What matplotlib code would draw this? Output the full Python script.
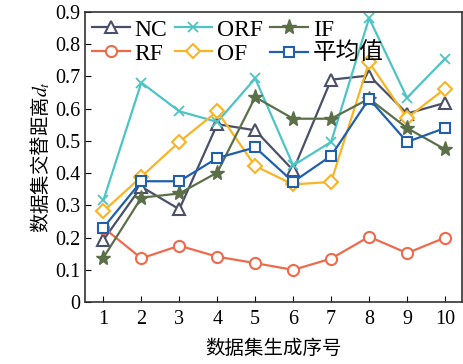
import matplotlib
matplotlib.use("Agg")
import matplotlib.pyplot as plt

# data
x = [1, 2, 3, 4, 5, 6, 7, 8, 9, 10]
nc = [0.193, 0.358, 0.288, 0.552, 0.533, 0.409, 0.690, 0.703, 0.585, 0.618]
orf = [0.316, 0.681, 0.592, 0.559, 0.694, 0.424, 0.497, 0.881, 0.634, 0.755]
iforest = [0.138, 0.324, 0.337, 0.402, 0.636, 0.569, 0.569, 0.631, 0.540, 0.474]
rf = [0.231, 0.136, 0.175, 0.141, 0.121, 0.100, 0.135, 0.203, 0.152, 0.200]
of = [0.282, 0.389, 0.497, 0.592, 0.422, 0.365, 0.373, 0.744, 0.571, 0.662]
mean = [0.231, 0.375, 0.375, 0.447, 0.480, 0.373, 0.454, 0.631, 0.497, 0.540]
yticks = [0, 0.1, 0.2, 0.3, 0.4, 0.5, 0.6, 0.7, 0.8, 0.9]
ytick_labels = ['0', '0.1', '0.2', '0.3', '0.4', '0.5', '0.6', '0.7', '0.8', '0.9']

plt.rcParams['font.family'] = ['Liberation Serif', 'Noto Sans CJK SC']
plt.rcParams['mathtext.fontset'] = 'stix'

fig = plt.figure(figsize=(4.63, 3.64), dpi=100)
ax = fig.add_axes([0.184, 0.170, 0.814, 0.797])

kw = dict(lw=1.6, ms=8, mfc='white', mew=1.5)
ax.plot(x, nc, color='#4a5068', marker='^', label='NC', **kw)
ax.plot(x, rf, color='#ef6a4c', marker='o', label='RF', **kw)
ax.plot(x, orf, color='#4ec4c4', marker='x', label='ORF', lw=1.6, ms=7, mew=1.3)
ax.plot(x, of, color='#f7b526', marker='D', label='OF', lw=1.6, ms=7, mfc='white', mew=1.5)
ax.plot(x, iforest, color='#5b7049', marker='*', label='IF', lw=1.6, ms=11)
ax.plot(x, mean, color='#1f5fab', marker='s', label='平均值', lw=1.6, ms=7, mfc='white', mew=1.5)

ax.set_xlim(0.52, 10.45)
ax.set_ylim(0, 0.9)
ax.set_xticks(x)
ax.set_yticks(yticks)
ax.set_yticklabels(ytick_labels)
ax.tick_params(direction='in', labelsize=14.5, length=4)
ax.tick_params(axis='x', pad=6)
for s in ax.spines.values():
    s.set_linewidth(1.2)
    s.set_color('#333333')

ax.set_xlabel('数据集生成序号', fontsize=14, family=['Noto Sans CJK SC'], labelpad=6)
ax.set_ylabel('数据集交替距离$d_t$', fontsize=14, family=['Noto Sans CJK SC'], labelpad=2)

ax.legend(loc='upper left', ncol=3, frameon=False, fontsize=17,
          handlelength=1.6, handletextpad=0.2, columnspacing=0.3,
          labelspacing=0.1, borderaxespad=0.1, borderpad=0.2)

plt.savefig('out.png', dpi=100)
